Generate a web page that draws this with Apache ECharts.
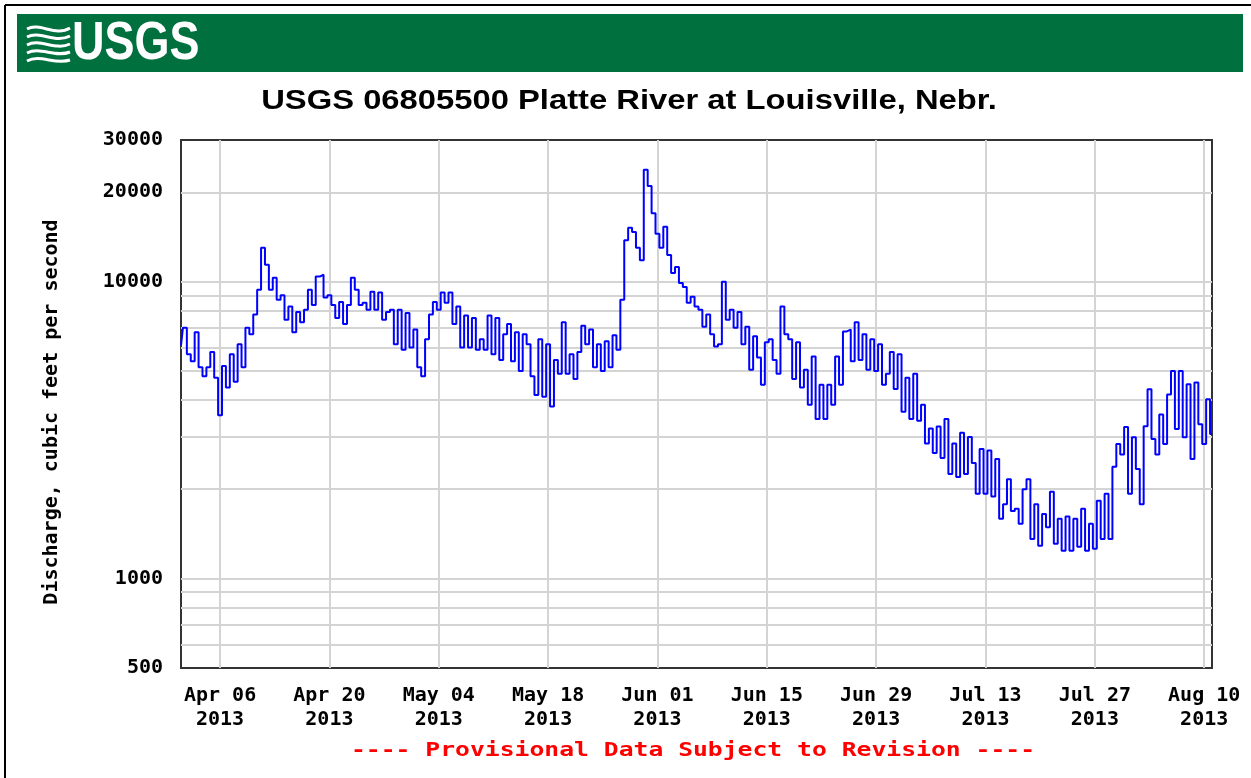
<!DOCTYPE html>
<html>
<head>
<meta charset="utf-8">
<title>USGS 06805500 Platte River at Louisville, Nebr.</title>
<script src="https://cdn.jsdelivr.net/npm/echarts@6/dist/echarts.min.js"></script>
<style>
html, body { margin: 0; padding: 0; background: #fff; }
#chart { width: 1251px; height: 778px; }
</style>
</head>
<body>
<div id="chart"></div>
<script>
// 起始时间（UTC），之后每 12 小时一个读数
const startTime = '2013-04-01T00:00:00Z';
const endTime = '2013-08-11T00:00:00Z';
const stepHours = 12;

// 流量读数（立方英尺/秒）
const discharge = [
  6100, 7000, 5700, 5400, 6750, 5150, 4800, 5150, 5800, 4750,
  3550, 5200, 4400, 5700, 4600, 6150, 5150, 7000, 6650, 7750,
  9400, 13000, 11400, 9400, 10300, 8700, 9000, 7450, 8250, 6750,
  7900, 7300, 8050, 9400, 8350, 10400, 10550, 8850, 9000, 8350,
  7550, 8550, 7200, 8350, 10300, 9400, 8350, 8500, 8050, 9250,
  8050, 9200, 7450, 7900, 8050, 6150, 8050, 5900, 7850, 6000,
  6900, 5150, 4800, 6400, 7750, 8550, 8050, 9200,
  8500, 9200, 7200, 8250, 6000, 7700, 6000, 7550, 5900, 6400,
  5900, 7700, 5700, 7550, 5450, 6650, 7200, 5400, 6750, 5000,
  6650, 6150, 4800, 4150, 6400, 4100, 6150, 3800, 5450, 4900,
  7300, 4900, 5700, 4700, 5800, 7100, 6150, 6900, 5150, 6150,
  5000, 6300, 5150, 6600, 5900, 8700, 13800, 15200, 14700, 13000,
  11800, 23800, 21000, 17000, 14500, 13000, 15300, 12300, 10700, 11200,
  9900, 9600, 8500, 8900, 8250, 8050, 7050,
  7750, 6650, 6050, 6150, 10000, 7450, 8050, 7000, 7900, 6150,
  7050, 5050, 6550, 5550, 4500, 6250, 6400, 5450, 4900, 8250,
  6650, 6400, 4700, 6250, 4400, 5050, 3850, 5600, 3450, 4500,
  3450, 4500, 3850, 5600, 4500, 6800, 6900, 5400, 7300, 5450,
  6650, 5050, 6400, 5000, 6150, 4500, 4900, 5800, 4350, 5700,
  3650, 4750, 3450, 4900, 3400, 3850, 2850, 3200, 2650, 3250,
  2550, 3450, 2250, 2850, 2200, 3100,
  2250, 3000, 2450, 1930, 2730, 1930, 2700, 1890, 2530, 1590,
  1780, 2160, 1690, 1720, 1530, 2000, 2160, 1360, 1780, 1290,
  1650, 1490, 1960, 1310, 1590, 1240, 1620, 1240, 1590, 1280,
  1720, 1240, 1530, 1260, 1830, 1360, 1930, 1360, 2380, 2840,
  2620, 3240, 1930, 2990, 2340, 1780, 3260, 4340, 2950, 2620,
  3570, 2840, 4170, 5000, 3190, 5000, 2990, 4510, 2530, 4580,
  3310, 2840, 4020, 3070
];

// X 轴刻度日期
const tickDates = [
  '2013-04-06', '2013-04-20', '2013-05-04', '2013-05-18', '2013-06-01',
  '2013-06-15', '2013-06-29', '2013-07-13', '2013-07-27', '2013-08-10'
];
// Y 轴网格线与标签
const yGridValues = [600, 700, 800, 900, 1000, 2000, 3000, 4000, 5000, 6000, 7000, 8000, 9000, 10000, 20000];
const yLabelValues = [500, 1000, 10000, 20000, 30000];
const monthNames = ['Jan', 'Feb', 'Mar', 'Apr', 'May', 'Jun', 'Jul', 'Aug', 'Sep', 'Oct', 'Nov', 'Dec'];

const monoFont = '"DejaVu Sans Mono", "Liberation Mono", monospace';
const sansFont = '"Liberation Sans", Arial, sans-serif';
const t0 = Date.parse(startTime);
const stepMs = stepHours * 3600 * 1000;
const tickTimes = tickDates.map(d => Date.parse(d + 'T00:00:00Z'));

const chartInstance = echarts.init(document.getElementById('chart'));

// 波浪标志的曲线
const waveLines = [0, 1, 2, 3, 4].map(k => ({
  type: 'bezierCurve',
  shape: { x1: 27, y1: 29 + k * 8, cpx1: 40, cpy1: 22 + k * 8, cpx2: 55, cpy2: 37 + k * 7, x2: 70, y2: 28 + k * 8 },
  style: { stroke: '#fff', lineWidth: 3, fill: null }
}));

const option = {
  animation: false,
  backgroundColor: '#fff',
  grid: {
    left: 181,
    right: 39,
    top: 140,
    bottom: 110,
    show: true,
    borderColor: '#333',
    borderWidth: 2,
    backgroundColor: 'transparent'
  },
  xAxis: {
    // 用时间戳数值轴，刻度位置自定义
    type: 'value',
    min: t0,
    max: Date.parse(endTime),
    axisLine: { show: false },
    axisTick: { show: false, customValues: tickTimes },
    axisLabel: {
      customValues: tickTimes,
      hideOverlap: false,
      margin: 16,
      color: '#000',
      fontFamily: monoFont,
      fontWeight: 'bold',
      fontSize: 20,
      lineHeight: 24,
      formatter: function (value) {
        const d = new Date(value);
        const day = String(d.getUTCDate()).padStart(2, '0');
        return monthNames[d.getUTCMonth()] + ' ' + day + '\n' + d.getUTCFullYear();
      }
    },
    splitLine: { show: true, lineStyle: { color: '#d4d4d4', width: 2 } }
  },
  yAxis: {
    type: 'log',
    logBase: 10,
    min: 500,
    max: 30000,
    name: 'Discharge, cubic feet per second',
    nameLocation: 'middle',
    nameGap: 119,
    nameRotate: 90,
    nameTextStyle: {
      fontFamily: monoFont,
      fontWeight: 'bold',
      fontSize: 20,
      color: '#000',
      padding: [0, 16, 0, 0]
    },
    axisLine: { show: false },
    axisTick: { show: false, customValues: yGridValues },
    axisLabel: {
      customValues: yLabelValues,
      margin: 18,
      color: '#000',
      fontFamily: monoFont,
      fontWeight: 'bold',
      fontSize: 20,
      formatter: v => String(Math.round(v))
    },
    splitLine: { show: true, lineStyle: { color: '#d4d4d4', width: 2 } }
  },
  graphic: [
    // 外框
    { type: 'line', shape: { x1: 5, y1: 5, x2: 1251, y2: 5 }, style: { stroke: '#000', lineWidth: 2 } },
    { type: 'line', shape: { x1: 5, y1: 5, x2: 5, y2: 778 }, style: { stroke: '#000', lineWidth: 2 } },
    // 绿色标题栏
    { type: 'rect', shape: { x: 17, y: 14, width: 1226, height: 58 }, style: { fill: '#00703f' } },
    ...waveLines,
    {
      type: 'text',
      x: 72,
      y: 44,
      scaleX: 0.85,
      style: {
        text: 'USGS',
        fill: '#fff',
        font: 'bold 53px ' + sansFont,
        textVerticalAlign: 'middle'
      }
    },
    // 图标题
    {
      type: 'text',
      x: 629,
      y: 101,
      scaleX: 1.17,
      style: {
        text: 'USGS 06805500 Platte River at Louisville, Nebr.',
        fill: '#000',
        font: 'bold 28px ' + sansFont,
        textAlign: 'center',
        textVerticalAlign: 'middle'
      }
    },
    // 底部说明
    {
      type: 'text',
      x: 693,
      y: 751,
      scaleX: 1.3,
      style: {
        text: '---- Provisional Data Subject to Revision ----',
        fill: '#ff0000',
        font: 'bold 19px ' + monoFont,
        textAlign: 'center',
        textVerticalAlign: 'middle'
      }
    }
  ],
  series: [
    {
      name: 'Discharge',
      type: 'line',
      step: 'middle',
      showSymbol: false,
      symbol: 'none',
      silent: true,
      lineStyle: { color: '#0000ff', width: 2 },
      data: discharge.map((v, i) => [t0 + i * stepMs, v])
    }
  ]
};

chartInstance.setOption(option);
</script>
</body>
</html>
